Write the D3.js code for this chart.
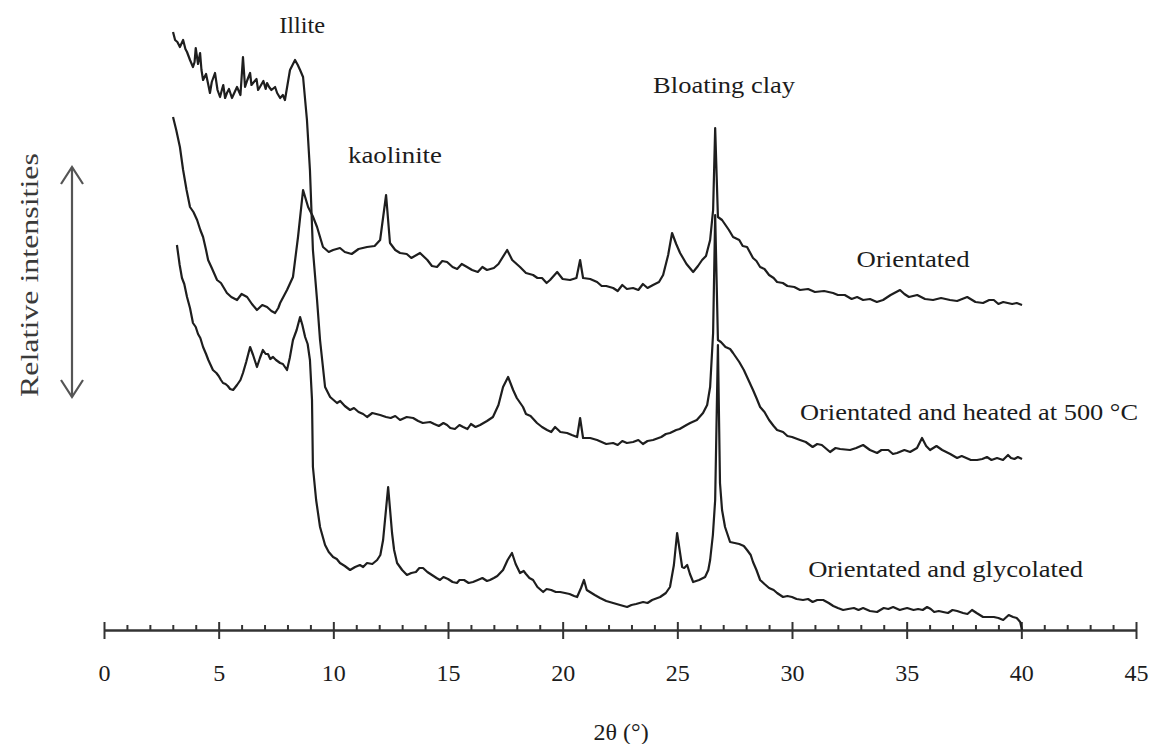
<!DOCTYPE html>
<html>
<head>
<meta charset="utf-8">
<script src="https://cdn.jsdelivr.net/npm/d3@7"></script>
<style>
  body { margin: 0; background: #fff; }
  text { font-family: "Times New Roman", "Liberation Serif", Times, serif; fill: #1c1c1c; }
</style>
</head>
<body>
<div id="chart"></div>
<script>
const WIDTH = 1149;
const HEIGHT = 744;
const MARGIN = { TOP: 0, BOTTOM: 114, LEFT: 104, RIGHT: 13 };
const FONT = '"Times New Roman", "Liberation Serif", Times, serif';

const width_plot = WIDTH - MARGIN.LEFT - MARGIN.RIGHT;
const height_plot = HEIGHT - MARGIN.TOP - MARGIN.BOTTOM;

// x axis ticks (2 theta, degrees)
const MAJOR_TICKS = [0, 5, 10, 15, 20, 25, 30, 35, 40, 45];
const MINOR_TICKS = d3.range(0, 46, 1).filter(v => v % 5 != 0);

// diffractograms, [2theta, stacked relative intensity]
const orientated = [
  [3.01,513],[3.15,500],[3.31,483],[3.45,460],[3.6,440],[3.75,423],[3.9,418],[4.06,410],
  [4.2,400],[4.32,393],[4.45,380],[4.54,370],[4.7,362],[4.93,350],[5.1,347],[5.36,337],
  [5.55,333],[5.80,330],[6.0,336],[6.24,333],[6.45,326],[6.67,320],[6.9,325],[7.11,323],
  [7.3,319],[7.46,317],[7.6,322],[7.68,327],[7.98,340],[8.24,353],[8.46,393],[8.68,440],
  [8.90,423],[9.1,414],[9.29,403],[9.55,383],[9.8,378],[9.99,380],[10.29,382],[10.5,378],
  [10.8,376],[11.1,381],[11.47,383],[11.8,384],[12.04,390],[12.30,435],[12.47,387],[12.7,380],
  [12.91,377],[13.2,376],[13.4,372],[13.78,377],[14.1,370],[14.3,364],[14.52,363],[14.75,369],
  [14.96,368],[15.2,363],[15.4,361],[15.6,366],[15.83,363],[16.05,360],[16.3,358],[16.5,363],
  [16.70,360],[17.0,362],[17.2,366],[17.58,380],[17.8,370],[18.14,363],[18.4,357],[18.71,355],
  [18.9,352],[19.1,352],[19.3,347],[19.45,350],[19.76,358],[20.0,351],[20.32,350],[20.6,352],
  [20.76,370],[20.89,352],[21.2,351],[21.50,348],[21.7,344],[21.9,344],[22.20,342],[22.4,339],
  [22.6,345],[22.8,341],[23.07,342],[23.3,340],[23.5,346],[23.7,342],[23.94,345],[24.2,348],
  [24.38,355],[24.6,375],[24.77,397],[24.95,386],[25.12,377],[25.4,366],[25.69,358],[25.9,364],
  [26.08,370],[26.25,374],[26.43,390],[26.56,420],[26.65,502],[26.77,413],[26.95,410],[27.1,405],
  [27.25,400],[27.43,393],[27.7,390],[27.85,384],[28.04,383],[28.3,372],[28.45,369],[28.61,363],
  [28.8,361],[29.0,355],[29.2,352],[29.35,348],[29.6,347],[29.8,344],[30.1,343],[30.35,340],
  [30.7,341],[31.0,338],[31.4,339],[31.79,337],[32.0,335],[32.3,335],[32.6,331],[32.84,333],
  [33.1,330],[33.4,331],[33.7,328],[33.97,330],[34.3,335],[34.71,340],[34.9,336],[35.1,333],
  [35.46,335],[35.8,331],[36.15,330],[36.5,332],[36.89,330],[37.2,329],[37.64,333],[38.0,328],
  [38.33,327],[38.6,330],[38.8,330],[39.0,326],[39.21,328],[39.6,326],[39.8,327],[40.03,325]
];

const heated = [
  [3.01,598],[3.1,590],[3.2,588],[3.31,583],[3.45,590],[3.55,581],[3.62,578],[3.75,570],
  [3.88,563],[3.95,568],[4.0,582],[4.1,566],[4.19,577],[4.25,560],[4.32,550],[4.45,556],
  [4.55,545],[4.62,537],[4.7,548],[4.84,557],[4.95,540],[5.06,533],[5.15,541],[5.2,545],
  [5.28,532],[5.36,537],[5.45,541],[5.58,532],[5.70,538],[5.80,543],[5.95,535],[6.06,573],
  [6.15,543],[6.25,550],[6.37,557],[6.43,545],[6.50,547],[6.65,551],[6.72,540],[6.80,543],
  [6.95,549],[7.05,541],[7.11,547],[7.2,543],[7.3,540],[7.46,543],[7.55,537],[7.68,532],
  [7.8,535],[7.89,530],[8.0,545],[8.11,560],[8.33,570],[8.45,565],[8.55,560],[8.68,553],
  [8.85,510],[8.98,460],[9.11,380],[9.29,330],[9.42,290],[9.64,243],[9.86,233],[10.16,227],
  [10.3,229],[10.5,224],[10.73,220],[10.9,222],[11.1,218],[11.3,216],[11.47,213],[11.7,217],
  [12.04,215],[12.3,213],[12.5,212],[12.7,214],[12.91,210],[13.2,213],[13.48,212],[13.7,209],
  [13.9,207],[14.22,208],[14.4,206],[14.6,204],[14.8,207],[14.96,205],[15.1,202],[15.3,201],
  [15.5,205],[15.66,203],[15.85,201],[16.0,206],[16.2,203],[16.40,205],[16.7,209],[16.96,213],
  [17.2,225],[17.40,243],[17.62,253],[17.84,240],[18.0,232],[18.27,223],[18.4,216],[18.6,214],
  [18.88,207],[19.1,203],[19.32,200],[19.5,198],[19.67,203],[19.9,198],[20.19,197],[20.4,195],
  [20.63,193],[20.76,212],[20.89,192],[21.2,192],[21.50,190],[21.7,188],[21.9,186],[22.20,187],
  [22.4,185],[22.6,189],[22.8,187],[23.07,188],[23.3,190],[23.5,186],[23.7,189],[23.94,190],
  [24.3,193],[24.5,196],[24.68,197],[24.95,200],[25.1,201],[25.25,203],[25.4,205],[25.56,207],
  [25.85,210],[26.12,217],[26.3,225],[26.43,243],[26.56,297],[26.65,415],[26.77,290],[26.9,288],
  [27.1,283],[27.3,281],[27.43,277],[27.7,268],[27.9,260],[28.04,253],[28.3,240],[28.45,232],
  [28.61,223],[28.8,218],[29.0,210],[29.2,204],[29.35,200],[29.61,198],[29.8,194],[30.0,193],
  [30.35,190],[30.6,188],[30.9,183],[31.1,186],[31.3,185],[31.66,178],[31.9,182],[32.1,181],
  [32.53,180],[32.8,182],[33.10,185],[33.4,180],[33.71,177],[33.9,180],[34.2,180],[34.4,176],
  [34.58,177],[34.9,180],[35.15,178],[35.45,182],[35.67,192],[35.85,184],[36.02,180],[36.3,184],
  [36.55,180],[36.9,176],[37.20,172],[37.4,174],[37.6,172],[37.8,170],[38.07,170],[38.3,171],
  [38.5,173],[38.7,170],[38.94,172],[39.2,170],[39.42,175],[39.55,172],[39.7,171],[39.85,173],
  [40.03,171]
];

const glycolated = [
  [3.18,385],[3.3,365],[3.4,352],[3.5,346],[3.62,333],[3.75,322],[3.88,307],[4.0,303],
  [4.1,296],[4.2,292],[4.32,283],[4.45,276],[4.55,270],[4.65,265],[4.75,260],[4.9,257],
  [5.0,254],[5.1,250],[5.19,247],[5.3,246],[5.4,244],[5.5,241],[5.63,240],[5.80,245],
  [5.95,250],[6.06,257],[6.2,268],[6.37,283],[6.5,275],[6.67,263],[6.8,272],[6.93,280],
  [7.05,276],[7.15,276],[7.25,271],[7.37,273],[7.5,270],[7.68,267],[7.8,266],[7.98,260],
  [8.1,272],[8.24,290],[8.4,300],[8.55,313],[8.65,305],[8.77,293],[8.88,286],[8.98,270],
  [9.07,230],[9.11,163],[9.25,130],[9.42,103],[9.64,85],[9.8,78],[9.99,73],[10.15,71],
  [10.29,67],[10.5,64],[10.73,60],[10.95,63],[11.16,65],[11.3,63],[11.47,67],[11.7,66],
  [11.91,70],[12.05,75],[12.17,90],[12.39,143],[12.56,97],[12.65,80],[12.78,67],[13.0,60],
  [13.21,55],[13.4,57],[13.6,58],[13.75,62],[13.91,62],[14.1,58],[14.3,55],[14.5,52],
  [14.65,50],[14.8,53],[15.0,51],[15.2,48],[15.39,47],[15.5,50],[15.7,50],[15.9,47],
  [16.09,48],[16.3,50],[16.5,52],[16.7,49],[16.83,50],[17.0,52],[17.15,54],[17.40,60],
  [17.6,70],[17.79,77],[17.95,66],[18.14,57],[18.3,59],[18.4,56],[18.55,52],[18.71,50],
  [18.9,43],[19.15,38],[19.3,41],[19.5,40],[19.7,38],[19.89,38],[20.1,37],[20.3,36],
  [20.5,34],[20.63,33],[20.8,42],[20.93,50],[21.05,40],[21.19,38],[21.4,35],[21.63,32],
  [21.9,29],[22.20,27],[22.5,25],[22.81,23],[23.0,25],[23.2,26],[23.51,28],[23.7,27],
  [23.9,30],[24.25,33],[24.5,37],[24.68,43],[24.85,65],[24.99,97],[25.1,80],[25.21,63],
  [25.3,62],[25.43,65],[25.55,56],[25.69,48],[25.95,50],[26.21,53],[26.35,60],[26.43,70],
  [26.55,95],[26.65,130],[26.77,285],[26.86,147],[26.95,120],[27.08,103],[27.30,88],[27.5,87],
  [27.7,86],[27.9,84],[28.04,80],[28.2,75],[28.3,68],[28.45,60],[28.61,50],[28.8,46],
  [29.0,42],[29.2,40],[29.35,37],[29.61,33],[29.8,34],[30.0,33],[30.2,31],[30.48,30],
  [30.7,31],[30.9,28],[31.1,30],[31.36,30],[31.6,27],[31.8,24],[32.0,22],[32.23,20],
  [32.45,21],[32.7,22],[32.9,20],[33.10,22],[33.4,19],[33.71,18],[33.85,20],[34.0,22],
  [34.2,21],[34.41,23],[34.7,20],[34.85,21],[35.02,22],[35.3,20],[35.5,21],[35.7,20],
  [35.89,23],[36.05,21],[36.2,18],[36.4,19],[36.59,18],[36.8,17],[37.0,20],[37.2,19],
  [37.46,17],[37.65,16],[37.85,20],[38.05,17],[38.33,13],[38.5,13],[38.8,13],[39.0,12],
  [39.21,10],[39.45,15],[39.64,13],[39.8,12],[39.95,8],[40.03,0]
];

const SERIES = [orientated, heated, glycolated];

// annotations, placed in data coordinates: [text, 2theta, intensity, width]
const LABELS = [
  ["Illite", 8.64, 597, 46],
  ["kaolinite", 12.69, 467, 94],
  ["Bloating clay", 27.04, 537, 142],
  ["Orientated", 35.28, 363, 113],
  ["Orientated and heated at 500 °C", 37.72, 210, 338],
  ["Orientated and glycolated", 36.70, 53, 275]
];

const svg = d3.select('#chart')
  .append('svg')
    .attr('width', WIDTH)
    .attr('height', HEIGHT)
    .style('background', '#fff');

const container = svg.append('g')
  .attr('transform', `translate(${MARGIN.LEFT}, ${MARGIN.TOP})`);

const xscale = d3.scaleLinear().domain([0, 45]).range([0, width_plot]);
const yscale = d3.scaleLinear().domain([0, 630]).range([height_plot, 0]);

// minor ticks, small marks on top of the line
const minorAxis = d3.axisTop(xscale)
  .tickValues(MINOR_TICKS)
  .tickSize(5)
  .tickFormat('');

container.append('g')
  .attr('class', 'minor')
  .attr('transform', `translate(0, ${height_plot})`)
  .call(minorAxis)
  .call(g => g.select('.domain').remove())
  .call(g => g.selectAll('line').attr('stroke', '#333').attr('stroke-width', 2));

const axisBottom = d3.axisBottom(xscale)
  .tickValues(MAJOR_TICKS)
  .tickSizeInner(9)
  .tickSizeOuter(0)
  .tickFormat(d3.format('d'));

const xAxis = container.append('g')
  .attr('class', 'xaxis')
  .attr('transform', `translate(0, ${height_plot})`)
  .call(axisBottom);

xAxis.select('.domain').attr('stroke', '#333').attr('stroke-width', 2.5);
xAxis.selectAll('.tick line')
  .attr('y1', -8)
  .attr('stroke', '#333')
  .attr('stroke-width', 2);
xAxis.selectAll('.tick text')
  .attr('y', 51)
  .attr('dy', 0)
  .attr('font-family', FONT)
  .attr('font-size', 24)
  .attr('fill', '#1c1c1c');

container.append('text')
  .attr('x', xscale(22.55))
  .attr('y', height_plot + 110)
  .attr('font-family', FONT)
  .style('text-anchor', 'middle')
  .style('font-size', '24px')
  .text('2θ (°)');

// y title and double arrow (no y axis in the figure)
svg.append('text')
  .attr('transform', 'translate(38, 275) rotate(-90)')
  .attr('font-family', FONT)
  .style('text-anchor', 'middle')
  .style('font-size', '26px')
  .style('fill', '#3a3a3a')
  .attr('textLength', 244)
  .attr('lengthAdjust', 'spacingAndGlyphs')
  .text('Relative intensities');

const arrow = svg.append('g')
  .attr('fill', 'none')
  .attr('stroke', '#555')
  .attr('stroke-width', 2.2);
arrow.append('line').attr('x1', 72).attr('x2', 72).attr('y1', 167).attr('y2', 397);
arrow.append('path').attr('d', 'M61,184 L72,167 L83,184');
arrow.append('path').attr('d', 'M61,380 L72,397 L83,380');

const line = d3.line()
  .x(d => xscale(d[0]))
  .y(d => yscale(d[1]));

container.selectAll('.curve')
  .data(SERIES)
  .enter()
  .append('path')
    .attr('class', 'curve')
    .attr('d', line)
    .attr('fill', 'none')
    .attr('stroke', '#1e1e1e')
    .attr('stroke-width', 2.2)
    .attr('stroke-linejoin', 'round');

container.selectAll('.label')
  .data(LABELS)
  .enter()
  .append('text')
    .attr('class', 'label')
    .attr('x', d => xscale(d[1]))
    .attr('y', d => yscale(d[2]))
    .attr('font-family', FONT)
    .style('text-anchor', 'middle')
    .style('font-size', '24px')
    .attr('textLength', d => d[3])
    .attr('lengthAdjust', 'spacingAndGlyphs')
    .text(d => d[0]);
</script>
</body>
</html>
